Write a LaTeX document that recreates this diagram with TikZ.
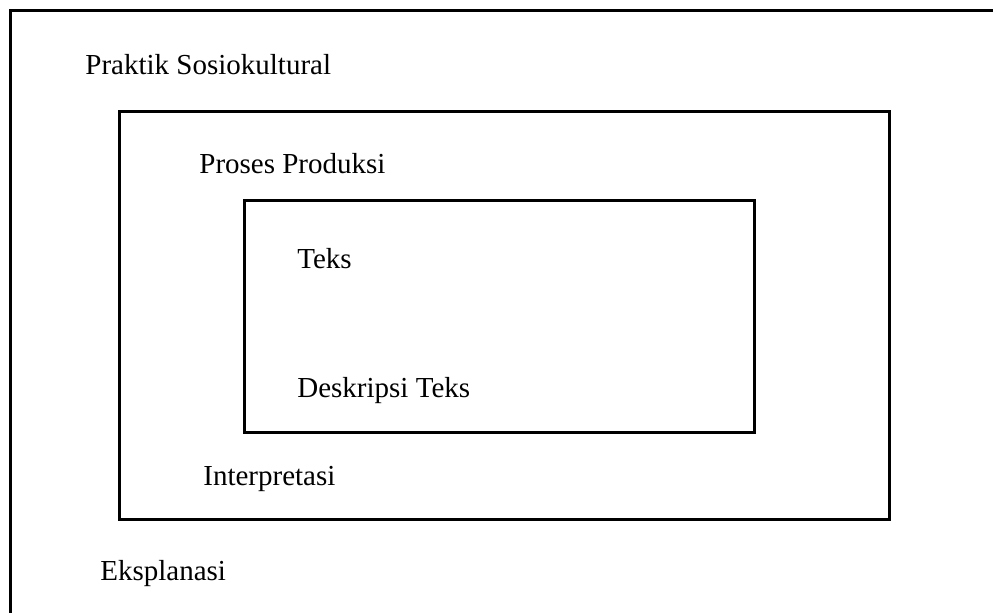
\documentclass[tikz,border=0pt]{standalone}
\usepackage{fontspec}
\setmainfont{Liberation Serif}
\usepackage{tikz}

\begin{document}
\begin{tikzpicture} [x=0.5pt, y=-0.5pt, lbl/.style={anchor=base west, inner sep=0pt, font=\fontsize{14.5}{17}\selectfont}, boxline/.style={line width=1.5pt}]
        \useasboundingbox (0,0) rectangle (993,612);
        \begin{scope}
        \clip (0,0) rectangle (993,612);
        \draw [boxline] (10,10) rectangle (1010,630);
        \end{scope}
        \draw [boxline] (119,111) rectangle (889,519) (244,200) rectangle (754,432);
        \node [lbl] (praktik) at (85,74) {Praktik Sosiokultural};
        \node [lbl] (proses) at (199,173) {Proses Produksi};
        \node [lbl] (teks) at (297,268) {Teks};
        \node [lbl] (deskripsi) at (297,397) {Deskripsi Teks};
        \node [lbl] (interpretasi) at (203,485) {Interpretasi};
        \node [lbl] (eksplanasi) at (100,580) {Eksplanasi};
    \end{tikzpicture}
\end{document}
